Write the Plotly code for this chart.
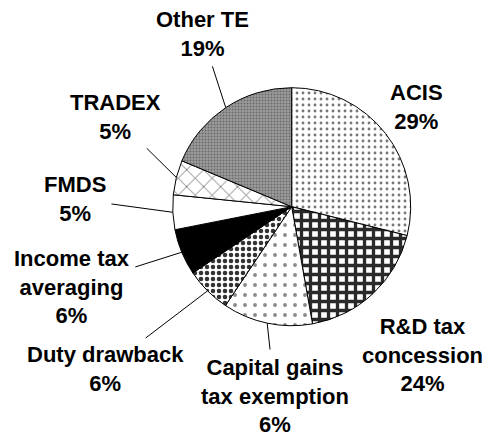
import math
import plotly.graph_objects as go

# ---- data ----
categories = ["ACIS", "R&D tax<br>concession", "Capital gains<br>tax exemption",
              "Duty drawback", "Income tax<br>averaging", "FMDS", "TRADEX", "Other TE"]
values = [28.9, 18.3, 12.2, 6.2, 6.3, 4.7, 4.7, 18.7]
pct_labels = ["29%", "24%", "6%", "6%", "6%", "5%", "5%", "19%"]

# ---- styles ----
W, H = 489, 436
cx, cy, r = 291.7, 206.7, 119.0
bg_colors = ["#ffffff", "#ffffff", "#ffffff", "#ffffff", "#000000", "#ffffff", "#ffffff", "#9c9c9c"]
pat_shapes = [".", "+", ".", ".", "", "", "x", "."]
pat_fg = ["#777777", "#2a2a2a", "#8a8a8a", "#333333", "#000000", "#ffffff", "#555555", "#6a6a6a"]
pat_size = [6, 9, 10, 6, 8, 8, 12, 3]
pat_sol = [0.18, 0.6, 0.12, 0.45, 0.3, 0.3, 0.12, 0.35]

# label centres (pixels) and whether a leader line is drawn
label_pos = [(416, 107), (422, 355), (275, 396), (105, 369), (72, 287), (75, 199), (115, 117), (202, 34)]
leader = [False, False, True, True, True, True, True, True]

fig = go.Figure(go.Pie(
    labels=categories,
    values=values,
    sort=False,
    direction="clockwise",
    rotation=0,
    textinfo="none",
    hoverinfo="label+percent",
    showlegend=False,
    marker=dict(
        colors=bg_colors,
        line=dict(color="#000000", width=1),
        pattern=dict(shape=pat_shapes, fgcolor=pat_fg, bgcolor=bg_colors,
                     size=pat_size, solidity=pat_sol, fillmode="replace"),
    ),
    domain=dict(x=[(cx - r) / W, (cx + r) / W], y=[1 - (cy + r) / H, 1 - (cy - r) / H]),
))

total = sum(values)
cum = 0.0
annotations = []
font = dict(family="Liberation Sans, Arial, sans-serif", size=22, color="#000000")
for name, v, pct, (lx, ly), ld in zip(categories, values, pct_labels, label_pos, leader):
    theta = 2 * math.pi * (cum + v / 2) / total
    cum += v
    text = "<b>" + name + "<br>" + pct + "</b>"
    if ld:
        tx = cx + r * math.sin(theta)
        ty = cy - r * math.cos(theta)
        annotations.append(dict(
            x=tx / W, y=1 - ty / H, xref="paper", yref="paper",
            ax=lx - tx, ay=ly - ty, axref="pixel", ayref="pixel",
            text=text, showarrow=True, arrowhead=0, arrowwidth=1, arrowcolor="#000000",
            font=font, align="center", standoff=0, startstandoff=4,
        ))
    else:
        annotations.append(dict(
            x=lx / W, y=1 - ly / H, xref="paper", yref="paper",
            text=text, showarrow=False, font=font, align="center",
            xanchor="center", yanchor="middle",
        ))

fig.update_layout(
    width=W, height=H,
    margin=dict(l=0, r=0, t=0, b=0),
    paper_bgcolor="#ffffff", plot_bgcolor="#ffffff",
    annotations=annotations,
)

fig.write_html("out.html", config={"displayModeBar": False},
               post_script="document.body.style.margin='0';document.body.style.overflow='hidden';")
